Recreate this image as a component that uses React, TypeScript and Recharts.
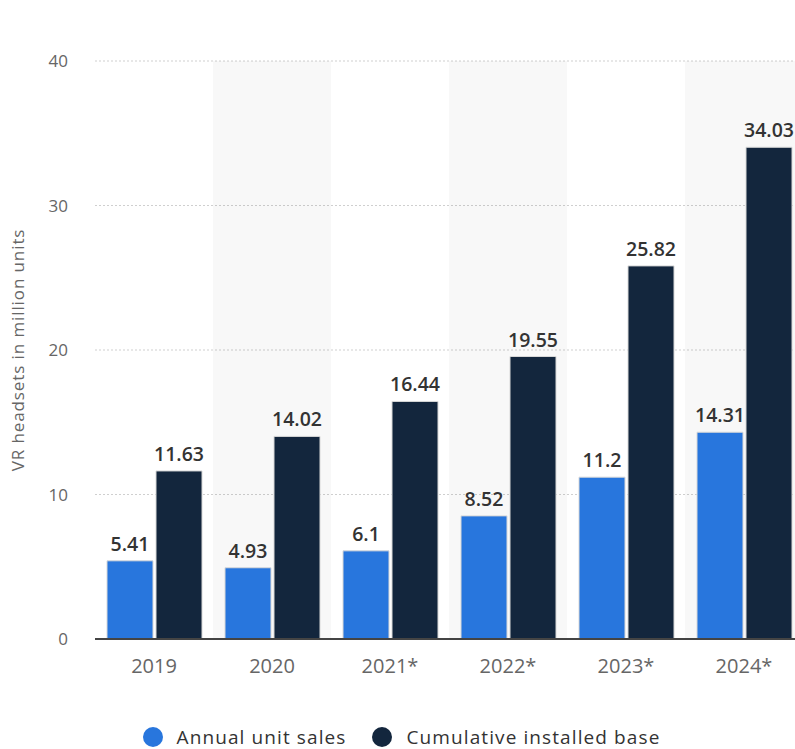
import React from "react";
import {
  BarChart,
  Bar,
  XAxis,
  YAxis,
  CartesianGrid,
  Legend,
  LabelList,
  ReferenceArea,
} from "recharts";

const categories = ["2019", "2020", "2021*", "2022*", "2023*", "2024*"];
const annualUnitSales = [5.41, 4.93, 6.1, 8.52, 11.2, 14.31];
const cumulativeInstalledBase = [11.63, 14.02, 16.44, 19.55, 25.82, 34.03];
const yTicks = [0, 10, 20, 30, 40];
const shadedCategories = ["2020", "2022*", "2024*"];

const SERIES = [
  { key: "annual", name: "Annual unit sales", color: "#2876dd" },
  { key: "cumulative", name: "Cumulative installed base", color: "#13263d" },
];

const data = categories.map((c, i) => ({
  year: c,
  annual: annualUnitSales[i],
  cumulative: cumulativeInstalledBase[i],
}));

const FONT = "'Open Sans', 'DejaVu Sans', sans-serif";

const renderLegend = () => (
  <div
    style={{
      display: "flex",
      justifyContent: "center",
      alignItems: "center",
      height: 24,
      fontFamily: FONT,
      fontSize: 19,
      letterSpacing: 1.1,
      color: "#333",
    }}
  >
    {SERIES.map((s) => (
      <div
        key={s.key}
        style={{ display: "flex", alignItems: "center", margin: "0 13px" }}
      >
        <span
          style={{
            width: 20,
            height: 20,
            borderRadius: "50%",
            background: s.color,
            display: "inline-block",
            marginRight: 14,
          }}
        />
        <span>{s.name}</span>
      </div>
    ))}
  </div>
);

export default function App() {
  return (
    <div
      style={{
        position: "absolute",
        left: 0,
        top: 0,
        width: 795,
        height: 749,
        overflow: "hidden",
        background: "#fff",
      }}
    >
      <BarChart
        width={803}
        height={749}
        data={data}
        margin={{ top: 61, right: 0, left: 0, bottom: 0 }}
        barSize={46}
        barGap={3}
      >
        <CartesianGrid
          vertical={false}
          stroke="#cfcfcf"
          strokeDasharray="2 2"
        />
        {shadedCategories.map((c) => (
          <ReferenceArea
            key={c}
            x1={c}
            x2={c}
            fill="#000"
            fillOpacity={0.028}
            stroke="none"
            ifOverflow="visible"
          />
        ))}
        <XAxis
          dataKey="year"
          height={86}
          tickLine={false}
          axisLine={{ stroke: "#444", strokeWidth: 2 }}
          tickMargin={14}
          tick={{ fill: "#666", fontSize: 20, fontFamily: FONT }}
        />
        <YAxis
          width={95}
          domain={[0, 40]}
          ticks={yTicks}
          axisLine={false}
          tickLine={false}
          tickMargin={21}
          tick={{ fill: "#666", fontSize: 17, fontFamily: FONT }}
          label={{
            value: "VR headsets in million units",
            angle: -90,
            position: "insideLeft",
            offset: 18,
            style: {
              textAnchor: "middle",
              fill: "#666",
              fontSize: 17,
              letterSpacing: 0.9,
              fontFamily: FONT,
            },
          }}
        />
        <Legend verticalAlign="bottom" content={renderLegend} />
        {SERIES.map((s) => (
          <Bar
            key={s.key}
            dataKey={s.key}
            name={s.name}
            fill={s.color}
            stroke="#d8d8d8"
            strokeWidth={1}
            isAnimationActive={false}
          >
            <LabelList
              dataKey={s.key}
              position="top"
              offset={10}
              fill="#333"
              fontSize={19.5}
              fontWeight={600}
              fontFamily={FONT}
            />
          </Bar>
        ))}
      </BarChart>
    </div>
  );
}
